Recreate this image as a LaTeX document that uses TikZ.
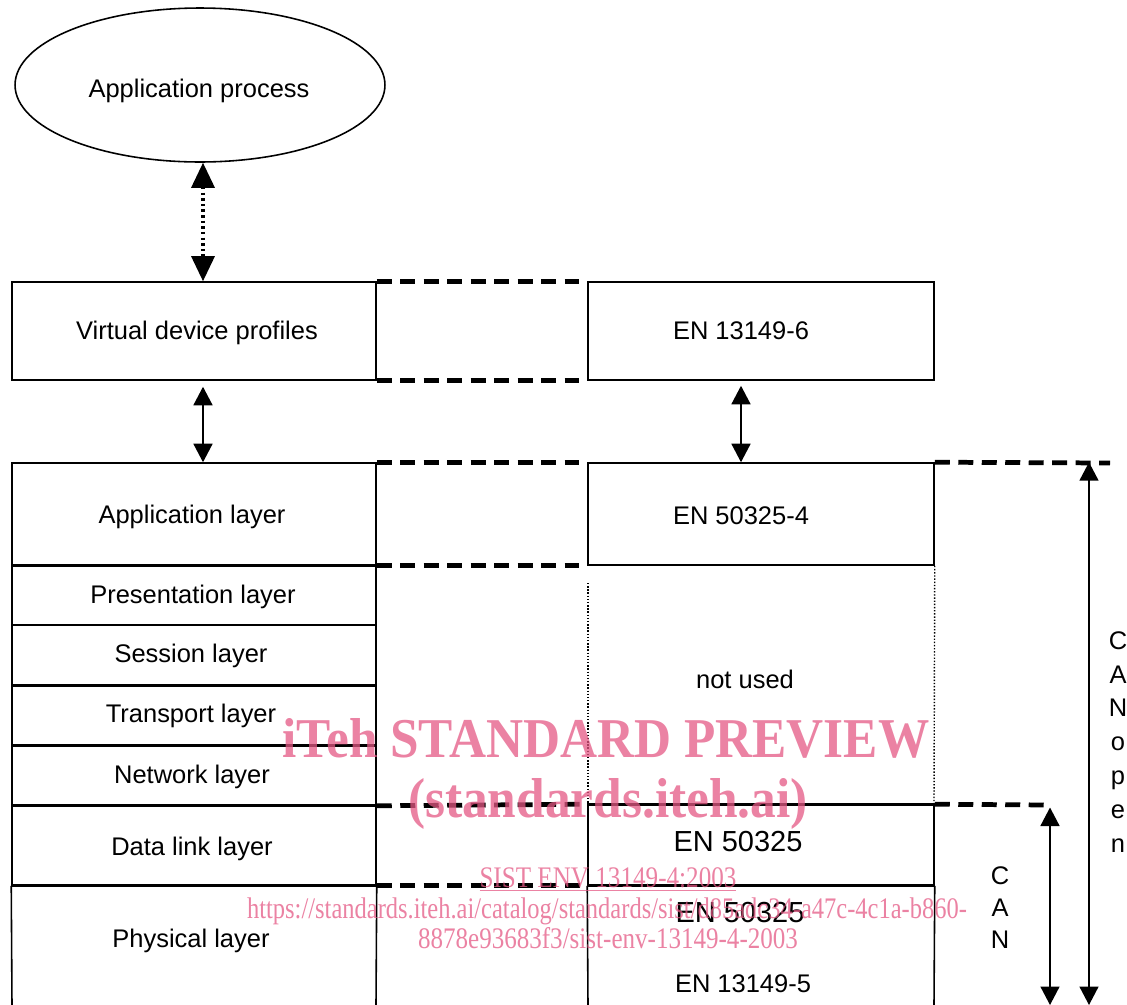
\documentclass[tikz,border=0pt]{standalone}
\usepackage{fontspec}
\setmainfont{Liberation Sans}
\newfontfamily\wmfont{Liberation Serif}
\usetikzlibrary{arrows.meta,shapes.geometric,calc}
\definecolor{wmpink}{RGB}{228,88,132}

\begin{document}
\begin{tikzpicture}[x=0.02cm, y=-0.02cm,
  lbl/.style={font=\fontsize{14.5}{17}\selectfont, inner sep=0pt},
  bigtxt/.style={font=\fontsize{16.5}{19}\selectfont, inner sep=0pt},
  frame/.style={draw, line width=0.9pt, inner sep=0pt, font=\fontsize{14.5}{17}\selectfont},
  heavy/.style={line width=1.8pt},
  linkdash/.style={line width=2.7pt, dash pattern=on 0.3cm off 0.17cm},
  sideline/.style={line width=0.9pt},
  dotside/.style={line width=0.8pt, densely dotted},
  pair/.style={line width=0.9pt, {Triangle[width=0.38cm,length=0.37cm]}-{Triangle[width=0.38cm,length=0.37cm]}},
  bigpair/.style={line width=1.8pt, dash pattern=on 1.4pt off 1.8pt, {Triangle[width=0.46cm,length=0.5cm]}-{Triangle[width=0.46cm,length=0.5cm]}},
  wm/.style={text=wmpink, text opacity=0.75, font=\wmfont, inner sep=0pt},
]
\useasboundingbox (0,0) rectangle (1127,1005);

% application process
\node[frame, ellipse, minimum width=7.4cm, minimum height=3.08cm] (proc) at (200,85) {};
\node[lbl] (proct) at (199,91) {Application process};

% left column: profiles and the OSI layers
\node[frame, minimum width=7.28cm, minimum height=1.96cm] (vdp) at (194,331) {};
\node[lbl] (vdpt) at (197,333) {Virtual device profiles};
\node[frame, minimum width=7.28cm, minimum height=2.04cm] (app) at (194,514) {};
\node[lbl] (appt) at (192,517) {Application layer};
\node[frame, minimum width=7.28cm, minimum height=1.2cm] (pres) at (194,595) {};
\node[lbl] (prest) at (193,597) {Presentation layer};
\node[frame, minimum width=7.28cm, minimum height=1.2cm] (sess) at (194,655) {};
\node[lbl] (sesst) at (191,656) {Session layer};
\node[frame, minimum width=7.28cm, minimum height=1.2cm] (trans) at (194,715) {};
\node[lbl] (transt) at (191,716) {Transport layer};
\node[frame, minimum width=7.28cm, minimum height=1.2cm] (net) at (194,775) {};
\node[lbl] (nett) at (192,777) {Network layer};
\node[frame, minimum width=7.28cm, minimum height=1.6cm] (dl) at (194,845) {};
\node[lbl] (dlt) at (192,849) {Data link layer};
\node[lbl] (phys) at (191,941) {Physical layer};
\coordinate (physbl) at (12,1005);
\coordinate (physbr) at (376,1005);
\draw[sideline] (dl.south west) -- (physbl);
\draw[sideline] (dl.south east) -- (physbr);

% heavy layer separators
\draw[heavy] (app.south west) -- (app.south east);
\draw[heavy] (sess.south west) -- (sess.south east);
\draw[heavy] (trans.south west) -- (trans.south east);
\draw[heavy] (net.south west) -- (net.south east);
\draw[heavy] (dl.south west) -- (dl.south east);

% right column: standards
\node[frame, minimum width=6.92cm, minimum height=1.96cm] (en6) at (761,331) {};
\node[lbl] (en6t) at (741,331) {EN 13149-6};
\node[frame, minimum width=6.92cm, minimum height=2.04cm] (en4) at (761,514) {};
\node[lbl] (en4t) at (741,516) {EN 50325-4};
\coordinate (nuL) at (588,583);
\coordinate (nuR) at (934,805);
\draw[dotside] (nuL) -- (588,805);
\draw[dotside] (en4.south east) -- (nuR);
\node[lbl] (notused) at (745,679) {not used};

\node[frame, minimum width=6.92cm, minimum height=1.6cm] (can50) at (761,845) {};
\node[bigtxt] (can50t) at (738,842) {EN 50325};
\coordinate (canbl) at (588,1005);
\coordinate (canbr) at (934,1005);
\draw[sideline] (can50.south west) -- (canbl);
\draw[sideline] (can50.south east) -- (canbr);
\draw[heavy] (can50.north west) -- (can50.north east);
\draw[heavy] (can50.south west) -- (can50.south east);
\node[bigtxt] (phy50t) at (740,913) {EN 50325};
\node[lbl] (en5t) at (743,984) {EN 13149-5};

% dashed correspondence lines
\draw[linkdash] (vdp.north east) -- ($(en6.north west)+(-8,0)$);
\draw[linkdash] (vdp.south east) -- ($(en6.south west)+(-8,0)$);
\draw[linkdash] (app.north east) -- ($(en4.north west)+(-8,0)$);
\draw[linkdash] (app.south east) -- ($(en4.south west)+(-8,0)$);
\draw[linkdash] (net.south east) -- (can50.north west);
\draw[linkdash] (dl.south east) -- (can50.south west);
\coordinate (coend) at (1110,463);
\coordinate (canend) at (1050,805);
\draw[linkdash] (en4.north east) -- (coend);
\draw[linkdash] (can50.north east) -- (canend);

% vertical arrows
\coordinate (ax) at (203,0);
\coordinate (bx) at (741,0);
\draw[bigpair] (proc.south -| ax) -- (vdp.north -| ax);
\draw[pair, shorten <=0.12cm] (vdp.south -| ax) -- (app.north -| ax);
\draw[pair, shorten <=0.1cm] (en6.south -| bx) -- (en4.north -| bx);

% protocol extent arrows
\coordinate (cobot) at (1089,1005);
\coordinate (canbot) at (1050,1005);
\draw[pair] (en4.north east -| cobot) -- (cobot);
\draw[pair, shorten <=0.05cm] (canend) -- (canbot);
\node[lbl, font=\fontsize{14.5}{19.3}\selectfont, align=center, anchor=north] (canopen) at (1118,631) {C\\A\\N\\o\\p\\e\\n};
\node[lbl, font=\fontsize{14.5}{18.4}\selectfont, align=center, anchor=north] (cantxt) at (1000,866) {C\\A\\N};

% overlay text
\node[wm, anchor=base] (wm1) at (606,757) {\resizebox{12.94cm}{\height}{\fontsize{32}{32}\selectfont\bfseries iTeh STANDARD PREVIEW}};
\node[wm, anchor=base] (wm2) at (608,817) {\resizebox{8.0cm}{\height}{\fontsize{32}{32}\selectfont\bfseries (standards.iteh.ai)}};
\node[wm, anchor=base] (wm3) at (608,887) {\resizebox{5.14cm}{\height}{\fontsize{17}{17}\selectfont\underline{SIST ENV 13149-4:2003}}};
\node[wm, anchor=base] (wm4) at (607,918) {\resizebox{14.4cm}{\height}{\fontsize{17}{17}\selectfont https://standards.iteh.ai/catalog/standards/sist/d85adc34-a47c-4c1a-b860-}};
\node[wm, anchor=base] (wm5) at (608,948) {\resizebox{7.6cm}{\height}{\fontsize{17}{17}\selectfont 8878e93683f3/sist-env-13149-4-2003}};
\end{tikzpicture}
\end{document}
